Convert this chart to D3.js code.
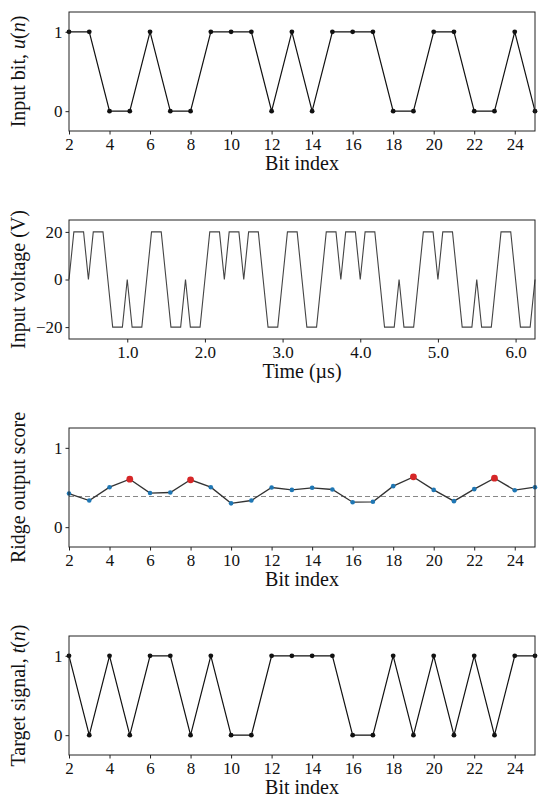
<!DOCTYPE html>
<html>
<head>
<meta charset="utf-8">
<script src="https://cdn.jsdelivr.net/npm/d3@7"></script>
<style>
  body { margin: 0; background: #fff; }
  svg text { font-family: "Liberation Serif", "DejaVu Serif", serif; fill: #111; }
</style>
</head>
<body>
<div id="chart"></div>
<script>
// bit sequence, n = 2..25
const bitIndex = [2,3,4,5,6,7,8,9,10,11,12,13,14,15,16,17,18,19,20,21,22,23,24,25];
const inputBit = [1,1,0,0,1,0,0,1,1,1,0,1,0,1,1,1,0,0,1,1,0,0,1,0];
const targetSignal = [1,0,1,0,1,1,0,1,0,0,1,1,1,1,0,0,1,0,1,0,1,0,1,1];
const ridgeScore = [0.424,0.336,0.504,0.605,0.43,0.437,0.597,0.504,0.30,0.336,0.50,0.47,
                    0.496,0.475,0.315,0.32,0.517,0.634,0.47,0.328,0.479,0.618,0.466,0.504];
const misclassified = [5, 8, 19, 23];
const threshold = 0.387;

// input voltage waveform (µs, V)
const voltTime = [0.25,0.3125,0.4375, 0.5,0.5625,0.6875, 0.75,0.8125,0.9375, 1.0,1.0625,1.1875,
  1.25,1.3125,1.4375, 1.5,1.5625,1.6875, 1.75,1.8125,1.9375, 2.0,2.0625,2.1875,
  2.25,2.3125,2.4375, 2.5,2.5625,2.6875, 2.75,2.8125,2.9375, 3.0,3.0625,3.1875,
  3.25,3.3125,3.4375, 3.5,3.5625,3.6875, 3.75,3.8125,3.9375, 4.0,4.0625,4.1875,
  4.25,4.3125,4.4375, 4.5,4.5625,4.6875, 4.75,4.8125,4.9375, 5.0,5.0625,5.1875,
  5.25,5.3125,5.4375, 5.5,5.5625,5.6875, 5.75,5.8125,5.9375, 6.0,6.0625,6.1875, 6.25];
const voltValue = [0,20,20, 0,20,20, 0,-20,-20, 0,-20,-20,
  0,20,20, 0,-20,-20, 0,-20,-20, 0,20,20,
  0,20,20, 0,20,20, 0,-20,-20, 0,20,20,
  0,-20,-20, 0,20,20, 0,20,20, 0,20,20,
  0,-20,-20, 0,-20,-20, 0,20,20, 0,20,20,
  0,-20,-20, 0,-20,-20, 0,20,20, 0,-20,-20, 0];

const bitTicks = [2,4,6,8,10,12,14,16,18,20,22,24];
const binaryTicks = [0, 1];
const timeTicks = [1,2,3,4,5,6];
const voltTicks = [-20, 0, 20];

const svgWidth = 550;
const svgHeight = 807;
const left = 69, right = 535;
const panelH = 119;
const tops = [12, 220, 428, 636];

const svg = d3.select("#chart")
    .append("svg")
    .attr("width", svgWidth)
    .attr("height", svgHeight);

function panel(top, xDomain, yDomain, xTicks, xFmt, yTicks, xLabel, yLabel) {
  const g = svg.append("g").attr("transform", `translate(${left},${top})`);
  const w = right - left;
  const x = d3.scaleLinear().domain(xDomain).range([0, w]);
  const y = d3.scaleLinear().domain(yDomain).range([panelH, 0]);

  g.append("g")
      .attr("transform", `translate(0,${panelH})`)
      .call(d3.axisBottom(x).tickValues(xTicks).tickFormat(xFmt).tickSize(3.5).tickPadding(3).tickSizeOuter(0))
      .call(a => a.select(".domain").remove())
      .call(a => a.selectAll("line").attr("stroke", "#222"))
      .call(a => a.selectAll("text").attr("font-size", 17).attr("fill", "#111")
                  .attr("font-family", "Liberation Serif, serif"));

  g.append("g")
      .call(d3.axisLeft(y).tickValues(yTicks).tickFormat(d3.format("d")).tickSize(3.5).tickPadding(3).tickSizeOuter(0))
      .call(a => a.select(".domain").remove())
      .call(a => a.selectAll("line").attr("stroke", "#222"))
      .call(a => a.selectAll("text").attr("font-size", 17).attr("fill", "#111")
                  .attr("font-family", "Liberation Serif, serif"));

  // x label
  g.append("text")
      .attr("x", w / 2)
      .attr("y", panelH + 39)
      .attr("text-anchor", "middle")
      .attr("font-size", 20)
      .text(xLabel);

  // y label (array of [text, italic] parts)
  const yl = g.append("text")
      .attr("transform", `translate(${25 - left},${panelH / 2}) rotate(-90)`)
      .attr("text-anchor", "middle")
      .attr("font-size", 20);
  yLabel.forEach(p => yl.append("tspan").attr("font-style", p[1] ? "italic" : "normal").text(p[0]));

  const plot = g.append("g");
  // frame on top later
  g.append("rect")
      .attr("width", w).attr("height", panelH)
      .attr("fill", "none").attr("stroke", "#222").attr("stroke-width", 1);

  return { plot, x, y };
}

const fmtInt = d3.format("d");

// Panel 1: input bit
const p1 = panel(tops[0], [2, 25], [-0.25, 1.25], bitTicks, fmtInt, binaryTicks, "Bit index",
  [["Input bit, ", 0], ["u", 1], ["(", 0], ["n", 1], [")", 0]]);
p1.plot.append("path")
    .datum(bitIndex)
    .attr("fill", "none")
    .attr("stroke", "#111")
    .attr("stroke-width", 1.2)
    .attr("d", d3.line().x(d => p1.x(d)).y((d, i) => p1.y(inputBit[i])));
p1.plot.selectAll("circle")
    .data(bitIndex)
    .join("circle")
    .attr("cx", d => p1.x(d))
    .attr("cy", (d, i) => p1.y(inputBit[i]))
    .attr("r", 2.4)
    .attr("fill", "#111");

// Panel 2: input voltage
const p2 = panel(tops[1], [0.25, 6.25], [-25, 25], timeTicks, d3.format(".1f"), voltTicks, "Time (\u00b5s)",
  [["Input voltage (V)", 0]]);
p2.plot.append("path")
    .datum(voltTime)
    .attr("fill", "none")
    .attr("stroke", "#444")
    .attr("stroke-width", 1.1)
    .attr("d", d3.line().x(d => p2.x(d)).y((d, i) => p2.y(voltValue[i])));

// Panel 3: ridge output
const p3 = panel(tops[2], [2, 25], [-0.25, 1.25], bitTicks, fmtInt, binaryTicks, "Bit index",
  [["Ridge output score", 0]]);
p3.plot.append("line")
    .attr("x1", p3.x(2)).attr("x2", p3.x(25))
    .attr("y1", p3.y(threshold)).attr("y2", p3.y(threshold))
    .attr("stroke", "#888")
    .attr("stroke-width", 1.1)
    .attr("stroke-dasharray", "5,3");
p3.plot.append("path")
    .datum(bitIndex)
    .attr("fill", "none")
    .attr("stroke", "#333")
    .attr("stroke-width", 1.3)
    .attr("d", d3.line().x(d => p3.x(d)).y((d, i) => p3.y(ridgeScore[i])));
p3.plot.selectAll("circle")
    .data(bitIndex)
    .join("circle")
    .attr("cx", d => p3.x(d))
    .attr("cy", (d, i) => p3.y(ridgeScore[i]))
    .attr("r", d => misclassified.includes(d) ? 3.4 : 2.3)
    .attr("fill", d => misclassified.includes(d) ? "#d62728" : "#1f77b4");

// Panel 4: target signal
const p4 = panel(tops[3], [2, 25], [-0.25, 1.25], bitTicks, fmtInt, binaryTicks, "Bit index",
  [["Target signal, ", 0], ["t", 1], ["(", 0], ["n", 1], [")", 0]]);
p4.plot.append("path")
    .datum(bitIndex)
    .attr("fill", "none")
    .attr("stroke", "#111")
    .attr("stroke-width", 1.2)
    .attr("d", d3.line().x(d => p4.x(d)).y((d, i) => p4.y(targetSignal[i])));
p4.plot.selectAll("circle")
    .data(bitIndex)
    .join("circle")
    .attr("cx", d => p4.x(d))
    .attr("cy", (d, i) => p4.y(targetSignal[i]))
    .attr("r", 2.4)
    .attr("fill", "#111");
</script>
</body>
</html>
